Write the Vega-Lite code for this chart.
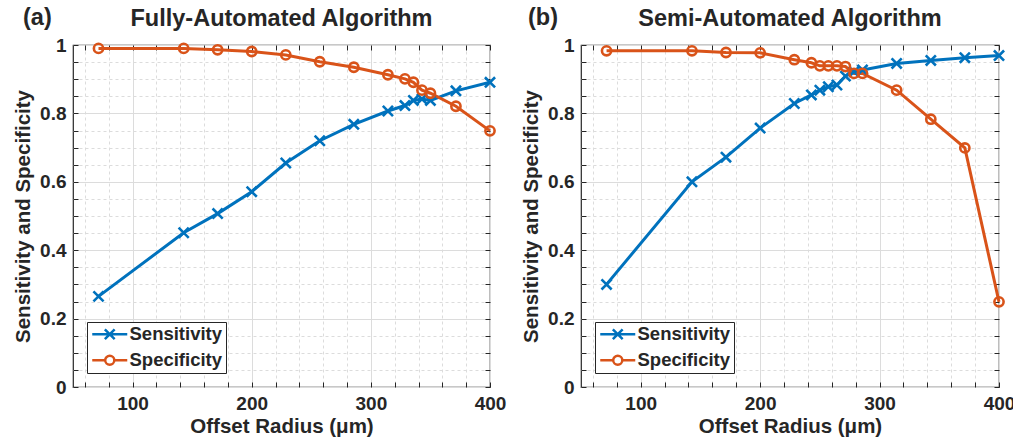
{
  "$schema": "https://vega.github.io/schema/vega-lite/v6.json",
  "background": "white",
  "padding": {"left": 12, "top": 5, "right": 0, "bottom": 0},
  "config": {
    "font": "Liberation Sans",
    "view": {"stroke": "#262626", "strokeWidth": 1.2},
    "axis": {
      "labelFont": "Liberation Sans", "labelFontSize": 19, "labelFontWeight": "bold", "labelColor": "#262626",
      "titleFont": "Liberation Sans", "titleFontSize": 20.5, "titleFontWeight": "bold", "titleColor": "#262626",
      "tickColor": "#262626", "tickWidth": 1, "domain": false, "labelOverlap": false, "labelFlush": false
    },
    "legend": {
      "orient": "bottom-left", "offset": 14, "fillColor": "white", "strokeColor": "#262626", "padding": 3,
      "labelFontSize": 18.5, "labelFontWeight": "bold", "labelColor": "#262626", "labelFont": "Liberation Sans",
      "symbolSize": 196, "symbolStrokeWidth": 2.5, "labelOffset": 21, "rowPadding": 5
    },
    "title": {"font": "Liberation Sans", "fontSize": 23.5, "fontWeight": "bold", "color": "#262626"},
    "concat": {"spacing": 13}
  },
  "datasets": {
    "fully": [
      {"radius": 71.4, "metric": "Sensitivity", "value": 0.265},
      {"radius": 142.9, "metric": "Sensitivity", "value": 0.451},
      {"radius": 171.4, "metric": "Sensitivity", "value": 0.507},
      {"radius": 200, "metric": "Sensitivity", "value": 0.571},
      {"radius": 228.6, "metric": "Sensitivity", "value": 0.655},
      {"radius": 257.1, "metric": "Sensitivity", "value": 0.72},
      {"radius": 285.7, "metric": "Sensitivity", "value": 0.768},
      {"radius": 314.3, "metric": "Sensitivity", "value": 0.807},
      {"radius": 328.6, "metric": "Sensitivity", "value": 0.823},
      {"radius": 335.7, "metric": "Sensitivity", "value": 0.838},
      {"radius": 342.9, "metric": "Sensitivity", "value": 0.842},
      {"radius": 350, "metric": "Sensitivity", "value": 0.838},
      {"radius": 371.4, "metric": "Sensitivity", "value": 0.866},
      {"radius": 400, "metric": "Sensitivity", "value": 0.891},
      {"radius": 71.4, "metric": "Specificity", "value": 0.99},
      {"radius": 142.9, "metric": "Specificity", "value": 0.99},
      {"radius": 171.4, "metric": "Specificity", "value": 0.986},
      {"radius": 200, "metric": "Specificity", "value": 0.981},
      {"radius": 228.6, "metric": "Specificity", "value": 0.971},
      {"radius": 257.1, "metric": "Specificity", "value": 0.951},
      {"radius": 285.7, "metric": "Specificity", "value": 0.935},
      {"radius": 314.3, "metric": "Specificity", "value": 0.913},
      {"radius": 328.6, "metric": "Specificity", "value": 0.901},
      {"radius": 335.7, "metric": "Specificity", "value": 0.891},
      {"radius": 342.9, "metric": "Specificity", "value": 0.868},
      {"radius": 350, "metric": "Specificity", "value": 0.859},
      {"radius": 371.4, "metric": "Specificity", "value": 0.821},
      {"radius": 400, "metric": "Specificity", "value": 0.749}
    ],
    "semi": [
      {"radius": 71.4, "metric": "Sensitivity", "value": 0.30},
      {"radius": 142.9, "metric": "Sensitivity", "value": 0.60},
      {"radius": 171.4, "metric": "Sensitivity", "value": 0.672},
      {"radius": 200, "metric": "Sensitivity", "value": 0.757},
      {"radius": 228.6, "metric": "Sensitivity", "value": 0.829},
      {"radius": 242.9, "metric": "Sensitivity", "value": 0.854},
      {"radius": 250, "metric": "Sensitivity", "value": 0.868},
      {"radius": 257.1, "metric": "Sensitivity", "value": 0.878},
      {"radius": 264.3, "metric": "Sensitivity", "value": 0.883},
      {"radius": 271.4, "metric": "Sensitivity", "value": 0.909},
      {"radius": 278.6, "metric": "Sensitivity", "value": 0.922},
      {"radius": 285.7, "metric": "Sensitivity", "value": 0.927},
      {"radius": 314.3, "metric": "Sensitivity", "value": 0.946},
      {"radius": 342.9, "metric": "Sensitivity", "value": 0.955},
      {"radius": 371.4, "metric": "Sensitivity", "value": 0.963},
      {"radius": 400, "metric": "Sensitivity", "value": 0.969},
      {"radius": 71.4, "metric": "Specificity", "value": 0.983},
      {"radius": 142.9, "metric": "Specificity", "value": 0.983},
      {"radius": 171.4, "metric": "Specificity", "value": 0.978},
      {"radius": 200, "metric": "Specificity", "value": 0.977},
      {"radius": 228.6, "metric": "Specificity", "value": 0.957},
      {"radius": 242.9, "metric": "Specificity", "value": 0.948},
      {"radius": 250, "metric": "Specificity", "value": 0.939},
      {"radius": 257.1, "metric": "Specificity", "value": 0.939},
      {"radius": 264.3, "metric": "Specificity", "value": 0.939},
      {"radius": 271.4, "metric": "Specificity", "value": 0.937},
      {"radius": 278.6, "metric": "Specificity", "value": 0.917},
      {"radius": 285.7, "metric": "Specificity", "value": 0.917},
      {"radius": 314.3, "metric": "Specificity", "value": 0.868},
      {"radius": 342.9, "metric": "Specificity", "value": 0.783},
      {"radius": 371.4, "metric": "Specificity", "value": 0.699},
      {"radius": 400, "metric": "Specificity", "value": 0.249}
    ]
  },
  "hconcat": [
    {
      "title": {"text": "(a)", "anchor": "start", "frame": "bounds", "offset": -23.5, "dx": 10},
      "resolve": {"scale": {"color": "independent", "shape": "independent"}, "legend": {"color": "independent", "shape": "independent"}},
      "vconcat": [
        {
          "title": {"text": "Fully-Automated Algorithm", "anchor": "middle", "frame": "group", "offset": 6},
          "width": 417, "height": 342,
          "data": {"name": "fully"},
          "layer": [
            {
              "mark": {"type": "line", "strokeWidth": 3},
              "encoding": {
                "x": {"field": "radius", "type": "quantitative", "scale": {"domain": [50, 400], "nice": false, "zero": false},
                  "axis": {"orient": "bottom", "title": "Offset Radius (μm)", "values": [60,80,100,120,140,160,180,200,220,240,260,280,300,320,340,360,380,400],
                    "format": "d", "labelExpr": "datum.value % 100 === 0 ? datum.label : ''",
                    "grid": true, "gridColor": "#dcdcdc", "gridWidth": 1,
                    "gridDash": {"condition": {"test": "datum.value % 100 === 0", "value": []}, "value": [3, 3]},
                    "tickSize": -5, "labelPadding": 12, "titlePadding": 3}},
                "y": {"field": "value", "type": "quantitative", "scale": {"domain": [0, 1], "nice": false},
                  "axis": {"orient": "left", "title": "Sensitivity and Specificity", "values": [0,0.05,0.1,0.15,0.2,0.25,0.3,0.35,0.4,0.45,0.5,0.55,0.6,0.65,0.7,0.75,0.8,0.85,0.9,0.95,1],
                    "format": "~g", "labelExpr": "abs(datum.value*5 - round(datum.value*5)) < 0.001 ? datum.label : ''",
                    "grid": true, "gridColor": "#dcdcdc", "gridWidth": 1,
                    "gridDash": {"condition": {"test": "abs(datum.value*5 - round(datum.value*5)) < 0.001", "value": []}, "value": [3, 3]},
                    "tickSize": -5, "labelPadding": 12, "titlePadding": 6}},
                "color": {"field": "metric", "type": "nominal", "scale": {"domain": ["Sensitivity", "Specificity"], "range": ["#0072BD", "#D95319"]}, "legend": null}
              }
            },
            {
              "mark": {"type": "point", "filled": false, "strokeWidth": 2.6, "size": 85, "opacity": 1},
              "encoding": {
                "x": {"field": "radius", "type": "quantitative", "axis": null},
                "y": {"field": "value", "type": "quantitative", "axis": null},
                "color": {"field": "metric", "type": "nominal", "scale": {"domain": ["Sensitivity", "Specificity"], "range": ["#0072BD", "#D95319"]}, "legend": null},
                "shape": {"field": "metric", "type": "nominal", "scale": {"domain": ["Sensitivity", "Specificity"], "range": ["M-1.1,-1.1L1.1,1.1M-1.1,1.1L1.1,-1.1", "M-1,0A1,1 0 1,0 1,0A1,1 0 1,0 -1,0"]}, "legend": null}
              }
            },
            {
              "transform": [{"filter": "false"}],
              "mark": {"type": "point", "filled": false, "strokeWidth": 2.6, "opacity": 1},
              "encoding": {
                "x": {"field": "radius", "type": "quantitative", "axis": null},
                "y": {"field": "value", "type": "quantitative", "axis": null},
                "color": {"field": "metric", "type": "nominal", "scale": {"domain": ["Sensitivity", "Specificity"], "range": ["#0072BD", "#D95319"]}, "legend": {"title": null}},
                "shape": {"field": "metric", "type": "nominal", "scale": {"domain": ["Sensitivity", "Specificity"], "range": ["M-1,0L4,0M0.8,-0.7L2.2,0.7M0.8,0.7L2.2,-0.7", "M-1,0L0.85,0M2.15,0L4,0M0.85,0A0.65,0.65 0 1,0 2.15,0A0.65,0.65 0 1,0 0.85,0"]}, "legend": {"title": null}}
              }
            },
            {
              "mark": {"type": "point", "opacity": 0},
              "encoding": {
                "x": {"field": "radius", "type": "quantitative",
                  "axis": {"orient": "top", "title": null, "labels": false, "grid": false, "tickSize": -5,
                    "values": [60,80,100,120,140,160,180,200,220,240,260,280,300,320,340,360,380,400]}},
                "y": {"field": "value", "type": "quantitative",
                  "axis": {"orient": "right", "title": null, "labels": false, "grid": false, "tickSize": -5,
                    "values": [0,0.05,0.1,0.15,0.2,0.25,0.3,0.35,0.4,0.45,0.5,0.55,0.6,0.65,0.7,0.75,0.8,0.85,0.9,0.95,1]}}
              }
            }
          ],
          "resolve": {"axis": {"x": "independent", "y": "independent"}, "scale": {"color": "independent", "shape": "independent"}}
        }
      ]
    },
    {
      "title": {"text": "(b)", "anchor": "start", "frame": "bounds", "offset": -23.5, "dx": 7},
      "resolve": {"scale": {"color": "independent", "shape": "independent"}, "legend": {"color": "independent", "shape": "independent"}},
      "vconcat": [
        {
          "title": {"text": "Semi-Automated Algorithm", "anchor": "middle", "frame": "group", "offset": 6},
          "width": 418, "height": 342,
          "data": {"name": "semi"},
          "layer": [
            {
              "mark": {"type": "line", "strokeWidth": 3},
              "encoding": {
                "x": {"field": "radius", "type": "quantitative", "scale": {"domain": [50, 400], "nice": false, "zero": false},
                  "axis": {"orient": "bottom", "title": "Offset Radius (μm)", "values": [60,80,100,120,140,160,180,200,220,240,260,280,300,320,340,360,380,400],
                    "format": "d", "labelExpr": "datum.value % 100 === 0 ? datum.label : ''",
                    "grid": true, "gridColor": "#dcdcdc", "gridWidth": 1,
                    "gridDash": {"condition": {"test": "datum.value % 100 === 0", "value": []}, "value": [3, 3]},
                    "tickSize": -5, "labelPadding": 12, "titlePadding": 3}},
                "y": {"field": "value", "type": "quantitative", "scale": {"domain": [0, 1], "nice": false},
                  "axis": {"orient": "left", "title": "Sensitivity and Specificity", "values": [0,0.05,0.1,0.15,0.2,0.25,0.3,0.35,0.4,0.45,0.5,0.55,0.6,0.65,0.7,0.75,0.8,0.85,0.9,0.95,1],
                    "format": "~g", "labelExpr": "abs(datum.value*5 - round(datum.value*5)) < 0.001 ? datum.label : ''",
                    "grid": true, "gridColor": "#dcdcdc", "gridWidth": 1,
                    "gridDash": {"condition": {"test": "abs(datum.value*5 - round(datum.value*5)) < 0.001", "value": []}, "value": [3, 3]},
                    "tickSize": -5, "labelPadding": 12, "titlePadding": 6}},
                "color": {"field": "metric", "type": "nominal", "scale": {"domain": ["Sensitivity", "Specificity"], "range": ["#0072BD", "#D95319"]}, "legend": null}
              }
            },
            {
              "mark": {"type": "point", "filled": false, "strokeWidth": 2.6, "size": 85, "opacity": 1},
              "encoding": {
                "x": {"field": "radius", "type": "quantitative", "axis": null},
                "y": {"field": "value", "type": "quantitative", "axis": null},
                "color": {"field": "metric", "type": "nominal", "scale": {"domain": ["Sensitivity", "Specificity"], "range": ["#0072BD", "#D95319"]}, "legend": null},
                "shape": {"field": "metric", "type": "nominal", "scale": {"domain": ["Sensitivity", "Specificity"], "range": ["M-1.1,-1.1L1.1,1.1M-1.1,1.1L1.1,-1.1", "M-1,0A1,1 0 1,0 1,0A1,1 0 1,0 -1,0"]}, "legend": null}
              }
            },
            {
              "transform": [{"filter": "false"}],
              "mark": {"type": "point", "filled": false, "strokeWidth": 2.6, "opacity": 1},
              "encoding": {
                "x": {"field": "radius", "type": "quantitative", "axis": null},
                "y": {"field": "value", "type": "quantitative", "axis": null},
                "color": {"field": "metric", "type": "nominal", "scale": {"domain": ["Sensitivity", "Specificity"], "range": ["#0072BD", "#D95319"]}, "legend": {"title": null}},
                "shape": {"field": "metric", "type": "nominal", "scale": {"domain": ["Sensitivity", "Specificity"], "range": ["M-1,0L4,0M0.8,-0.7L2.2,0.7M0.8,0.7L2.2,-0.7", "M-1,0L0.85,0M2.15,0L4,0M0.85,0A0.65,0.65 0 1,0 2.15,0A0.65,0.65 0 1,0 0.85,0"]}, "legend": {"title": null}}
              }
            },
            {
              "mark": {"type": "point", "opacity": 0},
              "encoding": {
                "x": {"field": "radius", "type": "quantitative",
                  "axis": {"orient": "top", "title": null, "labels": false, "grid": false, "tickSize": -5,
                    "values": [60,80,100,120,140,160,180,200,220,240,260,280,300,320,340,360,380,400]}},
                "y": {"field": "value", "type": "quantitative",
                  "axis": {"orient": "right", "title": null, "labels": false, "grid": false, "tickSize": -5,
                    "values": [0,0.05,0.1,0.15,0.2,0.25,0.3,0.35,0.4,0.45,0.5,0.55,0.6,0.65,0.7,0.75,0.8,0.85,0.9,0.95,1]}}
              }
            }
          ],
          "resolve": {"axis": {"x": "independent", "y": "independent"}, "scale": {"color": "independent", "shape": "independent"}}
        }
      ]
    }
  ],
  "resolve": {"scale": {"color": "independent", "shape": "independent"}, "legend": {"color": "independent", "shape": "independent"}}
}
